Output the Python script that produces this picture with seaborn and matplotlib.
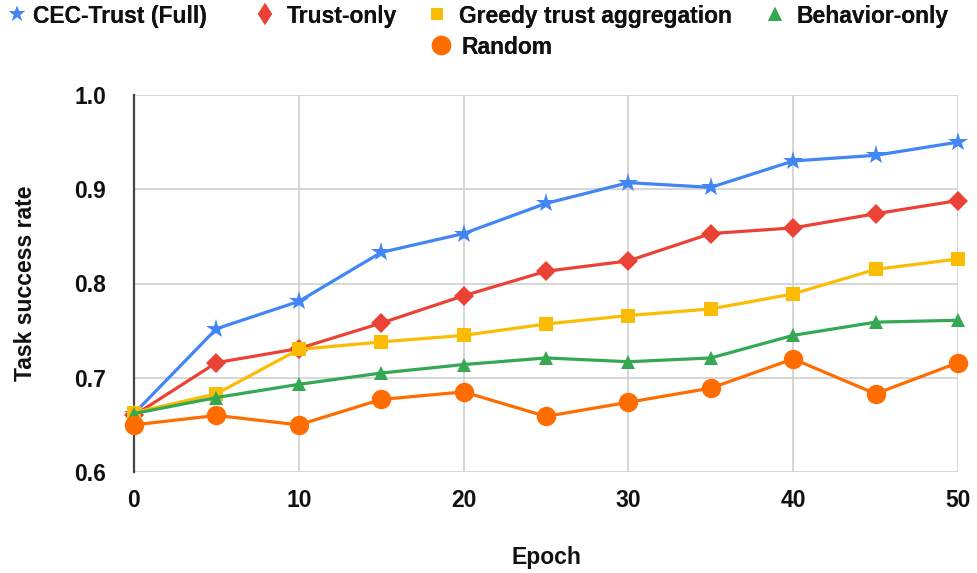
import numpy as np
import pandas as pd
import matplotlib
matplotlib.use("Agg")
import matplotlib.pyplot as plt
import seaborn as sns
from matplotlib.lines import Line2D

epochs = [0, 5, 10, 15, 20, 25, 30, 35, 40, 45, 50]
cec_trust_full = [0.662, 0.752, 0.781, 0.833, 0.853, 0.885, 0.907, 0.902, 0.930, 0.936, 0.950]
trust_only = [0.660, 0.716, 0.731, 0.758, 0.787, 0.813, 0.824, 0.853, 0.859, 0.874, 0.888]
greedy_trust = [0.663, 0.683, 0.730, 0.738, 0.745, 0.757, 0.766, 0.773, 0.789, 0.815, 0.826]
behavior_only = [0.662, 0.679, 0.693, 0.705, 0.714, 0.721, 0.717, 0.721, 0.745, 0.759, 0.761]
random_sel = [0.650, 0.660, 0.650, 0.677, 0.685, 0.659, 0.674, 0.689, 0.720, 0.683, 0.716]

series_names = ["CEC-Trust (Full)", "Trust-only", "Greedy trust aggregation",
                "Behavior-only", "Random"]
series_values = [cec_trust_full, trust_only, greedy_trust, behavior_only, random_sel]
colors = ["#4285F4", "#EA4335", "#FBBC04", "#34A853", "#FF6D01"]
markers = ["*", "D", "s", "^", "o"]
marker_sizes = [14.5, 10, 9.5, 10.5, 14]

legend_markers = ["*", "d", "s", "^", "o"]
legend_marker_sizes = [12, 11.5, 9, 9.5, 14]
# legend entry anchors (figure fraction of marker centre) and text gaps
legend_anchor_x = [17 / 978, 265 / 978, 437 / 978, 775 / 978, 441 / 978]
legend_anchor_y = [1 - 16 / 573] * 4 + [1 - 47 / 573]
legend_text_pad = [0.2, 0.45, 0.45, 0.45, 0.4]

FS = 16.5
TXT = "#111111"

sns.set_theme(style="white")
plt.rcParams["font.family"] = ["Liberation Sans", "DejaVu Sans"]
plt.rcParams["font.weight"] = "bold"

fig = plt.figure(figsize=(9.78, 5.73), dpi=100)
ax = fig.add_axes([134 / 978, 1 - 472 / 573, (958 - 134) / 978, (472 - 95) / 573])

for name, vals, c, m, ms in zip(series_names, series_values, colors, markers, marker_sizes):
    df = pd.DataFrame({"Epoch": epochs, "Task success rate": vals})
    sns.lineplot(data=df, x="Epoch", y="Task success rate", ax=ax, color=c,
                 marker=m, markersize=ms, markeredgewidth=0, linewidth=2.3,
                 label=name, legend=False, clip_on=False, zorder=3)

ax.set_xlim(0, 50)
ax.set_ylim(0.6, 1.0)
ax.set_xticks([0, 10, 20, 30, 40, 50])
ax.set_yticks([0.6, 0.7, 0.8, 0.9, 1.0])
ax.set_yticklabels(["0.6", "0.7", "0.8", "0.9", "1.0"])
ax.grid(True, color="#cccccc", linewidth=1.1, zorder=0)
ax.set_axisbelow(True)
for s in ["top", "right", "bottom"]:
    ax.spines[s].set_visible(False)
ax.spines["left"].set_color("#444444")
ax.spines["left"].set_linewidth(1.6)
ax.spines["left"].set_zorder(2)
ax.tick_params(axis="both", length=0, labelsize=FS, colors=TXT)
ax.tick_params(axis="y", pad=20)
ax.tick_params(axis="x", pad=12)
for lab in ax.get_xticklabels() + ax.get_yticklabels():
    lab.set_fontweight("bold")

ax.set_xlabel("Epoch", fontsize=FS, fontweight="bold", color=TXT, labelpad=25)
ax.set_ylabel("Task success rate", fontsize=FS, fontweight="bold", color=TXT, labelpad=27)

handle_len = 1.0
for name, c, m, ms, lx, ly, tp in zip(series_names, colors, legend_markers,
                                      legend_marker_sizes, legend_anchor_x,
                                      legend_anchor_y, legend_text_pad):
    h = Line2D([], [], linestyle="none", marker=m, color=c, markersize=ms, markeredgewidth=0)
    half_handle = handle_len * FS / 2 / 72 / 9.78
    leg = fig.legend([h], [name], loc="center left", bbox_to_anchor=(lx - half_handle, ly),
                     frameon=False, handlelength=handle_len, handletextpad=tp,
                     borderpad=0, borderaxespad=0, prop={"weight": "bold", "size": FS})
    for t in leg.get_texts():
        t.set_color(TXT)
    fig.add_artist(leg)

fig.savefig("out.png", dpi=100)
